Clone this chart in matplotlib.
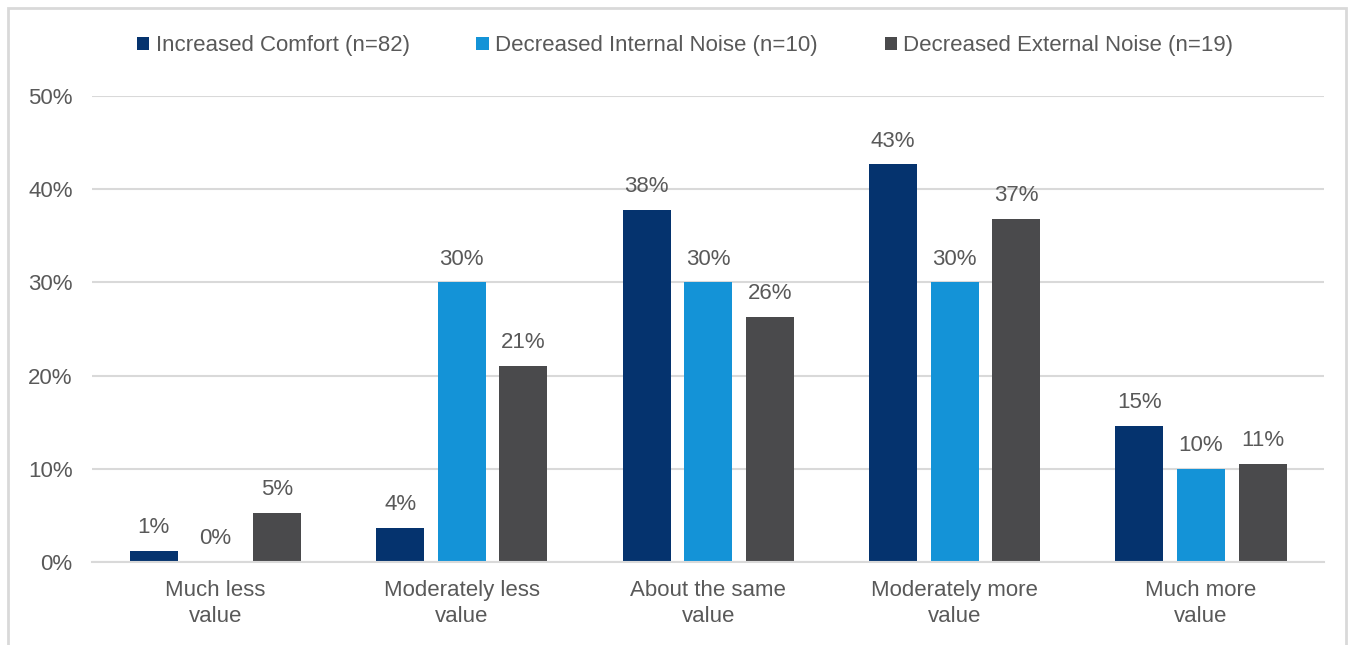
import numpy as np
import matplotlib.pyplot as plt
from matplotlib.patches import Rectangle

plt.rcParams['font.family'] = ['Liberation Sans', 'DejaVu Sans']

categories = ['Much less\nvalue', 'Moderately less\nvalue', 'About the same\nvalue',
              'Moderately more\nvalue', 'Much more\nvalue']
series_names = ['Increased Comfort (n=82)', 'Decreased Internal Noise (n=10)',
                'Decreased External Noise (n=19)']
# percent of respondents in each group
comfort = [1.22, 3.66, 37.80, 42.68, 14.63]
internal_noise = [0.0, 30.0, 30.0, 30.0, 10.0]
external_noise = [5.26, 21.05, 26.32, 36.84, 10.53]
colors = ['#05336E', '#1493D7', '#4A4A4C']

text_color = '#595959'
grid_color = '#D9D9D9'

fig = plt.figure(figsize=(13.54, 6.45), dpi=100)
ax = fig.add_axes([0.068, 0.1287, 0.91, 0.7223])

x = np.arange(len(categories))
width = 0.195
offsets = [-0.25, 0, 0.25]
for vals, name, col, off in zip([comfort, internal_noise, external_noise],
                                series_names, colors, offsets):
    bars = ax.bar(x + off, vals, width, color=col, label=name, zorder=3)
    for b, v in zip(bars, vals):
        ax.annotate(f'{v:.0f}%', (b.get_x() + b.get_width() / 2, v),
                    xytext=(0, 9), textcoords='offset points',
                    ha='center', va='bottom', fontsize=16, color=text_color)

ax.set_xlim(-0.5, len(categories) - 0.5)
ax.set_ylim(0, 50)
ax.set_yticks(np.arange(0, 51, 10))
ax.set_yticklabels([f'{t}%' for t in range(0, 51, 10)])
ax.set_xticks(x)
ax.set_xticklabels(categories, linespacing=1.3)
ax.tick_params(length=0, labelsize=16, labelcolor=text_color)
ax.tick_params(axis='y', pad=14)
ax.tick_params(axis='x', pad=13)
ax.yaxis.grid(True, color=grid_color, linewidth=1.5, zorder=0)
for s in ['top', 'right', 'left']:
    ax.spines[s].set_visible(False)
ax.spines['bottom'].set_color(grid_color)
ax.spines['bottom'].set_linewidth(1.5)
ax.spines['bottom'].set_zorder(4)

leg = fig.legend(loc='center', bbox_to_anchor=(0.506, 0.929), ncol=3, frameon=False,
                 fontsize=16, handlelength=0.55, handleheight=0.55, handletextpad=0.3,
                 columnspacing=3.0)
for t in leg.get_texts():
    t.set_color(text_color)

# light frame around the whole chart
fig.patches.append(Rectangle((0.006, -0.02), 0.988, 1.008, transform=fig.transFigure,
                             fill=False, edgecolor=grid_color, linewidth=2))

fig.savefig('out.png', dpi=100)
